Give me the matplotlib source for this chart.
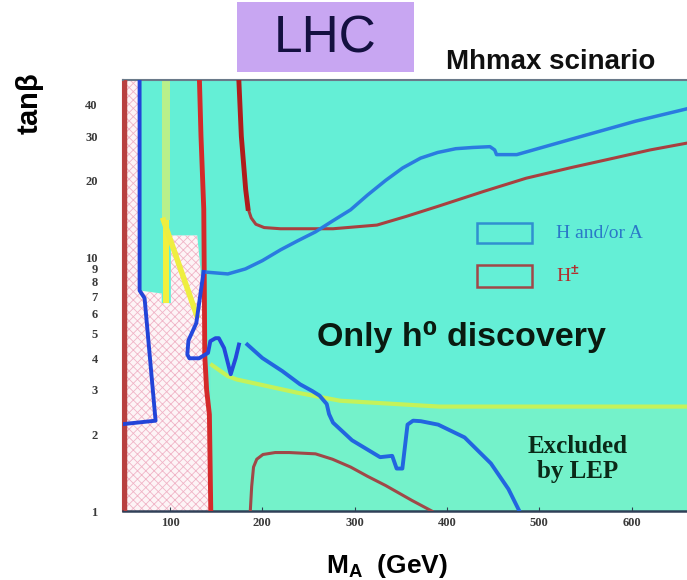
import matplotlib
matplotlib.use("Agg")
import matplotlib.pyplot as plt
from matplotlib.patches import Rectangle
from matplotlib.ticker import NullLocator

plt.rcParams['mathtext.fontset'] = 'custom'
plt.rcParams['mathtext.rm'] = 'Liberation Sans:bold'
plt.rcParams['mathtext.bf'] = 'Liberation Sans:bold'
plt.rcParams['mathtext.it'] = 'Liberation Sans:bold'
plt.rcParams['hatch.linewidth'] = 0.6

# ---------------- data (M_A in GeV, tan beta) ----------------
x_ticks = [100, 200, 300, 400, 500, 600]
x_tick_labels = ['100', '200', '300', '400', '500', '600']
y_ticks = [1, 2, 3, 4, 5, 6, 7, 8, 9, 10, 20, 30, 40]
y_tick_labels = ['1', '2', '3', '4', '5', '6', '7', '8', '9', '10', '20', '30', '40']

# LEP excluded hatched region
hatch_x = [48.8, 48.8, 67, 67, 91, 91, 101, 101, 129.5, 133, 137.7, 142.7, 144.2]
hatch_y = [1, 50, 50, 7.4, 7.2, 6.6, 6.6, 12.2, 12.2, 9, 4.1, 2.4, 1]

# yellow strip / diagonal
ystrip_top_x = [91, 100, 100, 91]
ystrip_top_y = [14, 14, 50, 50]
ystrip_low_x = [92, 99, 99, 92]
ystrip_low_y = [6.6, 6.6, 14, 14]
ydiag_x = [93, 129]
ydiag_y = [14, 5.9]

# lower (excluded by LEP) light-green region
low_x = [143.7, 143.7, 162.7, 172.3, 237.3, 284.5, 391.8, 660, 660]
low_y = [1, 3.8, 3.4, 3.3, 2.93, 2.72, 2.58, 2.58, 1]

# red (H+-) left line
red_left_x = [51.2, 51.2]
red_left_y = [1, 50]
# red (H+-) right vertical
red_v_x = [131.9, 133.6, 136.6, 137.1, 137.7, 139.7, 142.7, 144.2]
red_v_y = [50, 30, 15.5, 8.8, 4.1, 3.0, 2.4, 1]
# red (H+-) upper-right curve
red_up_x = [174.6, 177.3, 182.0, 184.5, 188.0, 193.0, 202.0, 219.7, 276.6, 324.2,
            356.0, 390.6, 440.0, 485.7, 535.0, 580.6, 620.0, 660]
red_up_y = [50, 30, 18.5, 15.6, 14.3, 13.5, 13.1, 12.96, 12.96, 13.4,
            14.5, 15.9, 18.2, 20.5, 22.6, 24.6, 26.5, 28.2]
# red (H+-) lower curve
red_low_x = [187.0, 188.5, 190.5, 194.0, 200.7, 214.0, 229.1, 257.6, 276.0, 295.7,
             314.0, 333.6, 362.2, 383.5]
red_low_y = [1.0, 1.25, 1.49, 1.60, 1.67, 1.70, 1.70, 1.68, 1.60, 1.49,
             1.37, 1.26, 1.10, 1.0]

# blue (H and/or A) left curve
blue_left_x = [67.1, 67.1, 72.5, 84.4, 48.8]
blue_left_y = [50, 7.4, 6.9, 2.27, 2.2]
# blue upper curve
blue_up_x = [136.4, 162.7, 181.7, 200.0, 219.7, 238.0, 257.6, 276.0, 295.7, 314.0,
             333.6, 352.0, 371.4, 390.0, 409.5, 428.0, 446.6, 451.7, 453.7, 475.6,
             533.0, 604.2, 660]
blue_up_y = [8.76, 8.6, 9.0, 9.7, 10.7, 11.6, 12.6, 13.9, 15.4, 17.6,
             20.1, 22.5, 24.6, 25.9, 26.8, 27.1, 27.3, 26.5, 25.4, 25.4,
             29.1, 34.4, 38.5]
# blue W-shaped part
blue_w_x = [136.4, 132.6, 128.5, 120.0, 118.8, 121.0, 131.6, 141.2, 143.7, 149.3,
            152.9, 158.6, 165.8, 171.2, 174.7]
blue_w_y = [8.76, 7.0, 5.5, 4.7, 4.14, 4.0, 4.0, 4.2, 4.67, 4.8,
            4.8, 4.39, 3.46, 4.01, 4.53]
# blue lower curve
blue_low_x = [183.8, 200.0, 221.7, 240.8, 254.2, 262.0, 269.8, 272.3, 276.6, 297.2,
              327.6, 340.7, 345.5, 351.7, 357.3, 363.3, 371.6, 390.5, 419.1, 447.6,
              466.6, 478.4]
blue_low_y = [4.53, 4.01, 3.56, 3.16, 2.97, 2.85, 2.64, 2.41, 2.23, 1.90,
              1.63, 1.65, 1.47, 1.47, 2.19, 2.27, 2.26, 2.19, 1.95, 1.54,
              1.22, 1.0]

# ---------------- figure ----------------
W, H = 687, 580
fig = plt.figure(figsize=(W / 100, H / 100), dpi=100)
fig.patch.set_facecolor('white')
ax = fig.add_axes([122.7 / W, (H - 511) / H, (W - 122.7) / W, 431 / H])
ax.set_facecolor('#64efd6')
ax.set_yscale('log')
ax.set_xlim(48.8, 660)
ax.set_ylim(1, 50)

ax.fill(low_x, low_y, facecolor='#74f2ca', edgecolor='none', zorder=1)
ax.plot(low_x[1:-1], low_y[1:-1], color='#c4f25a', lw=3, zorder=1.2,
        solid_capstyle='butt')
ax.fill(hatch_x, hatch_y, facecolor='#fdf4f6', edgecolor='#f0b4c6', hatch='xxxx',
        linewidth=0, zorder=1.1)
ax.fill(ystrip_top_x, ystrip_top_y, facecolor='#b8f08a', edgecolor='none', zorder=1.3)
ax.fill(ystrip_low_x, ystrip_low_y, facecolor='#f2f03e', edgecolor='none', zorder=1.3)
ax.plot(ydiag_x, ydiag_y, color='#eeee40', lw=4, zorder=1.4)

ax.plot(red_left_x, red_left_y, color='#b84040', lw=2.5, zorder=3)
ax.plot(red_v_x, red_v_y, color='#d42a2a', lw=3.5, zorder=3)
ax.plot(red_up_x, red_up_y, color='#a84040', lw=2.2, zorder=3)
ax.plot(red_up_x[:4], red_up_y[:4], color='#b01c1c', lw=3.5, zorder=3)
ax.plot(red_low_x, red_low_y, color='#a04848', lw=2.2, zorder=3)

ax.plot(blue_left_x, blue_left_y, color='#2244d8', lw=2.8, zorder=3.2)
ax.plot(blue_up_x, blue_up_y, color='#2a7be0', lw=2.5, zorder=3.2)
ax.plot(blue_w_x, blue_w_y, color='#2448dc', lw=2.8, zorder=3.2)
ax.plot(blue_low_x, blue_low_y, color='#2266e0', lw=2.8, zorder=3.2)

# legend boxes
ax.add_patch(Rectangle((0.627, 0.621), 0.098, 0.047, transform=ax.transAxes,
                       facecolor='none', edgecolor='#3090d0', lw=1.8, zorder=4))
ax.add_patch(Rectangle((0.627, 0.519), 0.098, 0.052, transform=ax.transAxes,
                       facecolor='none', edgecolor='#a04848', lw=1.8, zorder=4))
ax.text(0.768, 0.645, 'H and/or A', transform=ax.transAxes, color='#2a78c8',
        family='Liberation Serif', fontsize=14, va='center', ha='left', zorder=4)
ax.text(0.768, 0.548, r'H$^{\pm}$', transform=ax.transAxes, color='#b03030',
        family='Liberation Serif', fontsize=14, va='center', ha='left', zorder=4)

ax.text(0.600, 0.404, 'Only h\u2070 discovery', transform=ax.transAxes,
        family=['Liberation Sans', 'DejaVu Sans'], fontweight='bold', fontsize=24.5,
        color='#0a1a10', ha='center', va='center', zorder=4)
ax.text(0.806, 0.149, 'Excluded', transform=ax.transAxes, family='Liberation Serif',
        fontweight='bold', fontsize=18, color='#0a2a18', ha='center', va='center', zorder=4)
ax.text(0.806, 0.091, 'by LEP', transform=ax.transAxes, family='Liberation Serif',
        fontweight='bold', fontsize=18, color='#0a2a18', ha='center', va='center', zorder=4)

# ticks
ax.set_xticks(x_ticks)
ax.set_xticklabels(x_tick_labels)
ax.set_yticks(y_ticks)
ax.set_yticklabels(y_tick_labels)
ax.yaxis.set_minor_locator(NullLocator())
ax.xaxis.set_minor_locator(NullLocator())
ax.tick_params(axis='y', length=0, pad=18)
ax.tick_params(axis='x', length=3, direction='in', pad=4, color='#304050')
for lab in ax.get_xticklabels() + ax.get_yticklabels():
    lab.set_family('Liberation Serif')
    lab.set_fontweight('bold')
    lab.set_fontsize(9)
    lab.set_color('#3a3a3a')

ax.spines['right'].set_visible(False)
ax.spines['top'].set_color('#6a7a8a')
ax.spines['top'].set_linewidth(1.5)
ax.spines['bottom'].set_color('#304058')
ax.spines['bottom'].set_linewidth(1.8)
ax.spines['left'].set_color('#b84040')
ax.spines['left'].set_linewidth(1.5)

# title box
fig.patches.append(Rectangle((236.6 / W, 1 - 72 / H), 177 / W, 70 / H,
                             transform=fig.transFigure, facecolor='#c8a6f2',
                             edgecolor='none', zorder=0))
fig.text(325 / W, 1 - 39 / H, 'LHC', family='Liberation Sans', fontsize=37,
         color='#141040', ha='center', va='center')
fig.text(551 / W, 1 - 62 / H, 'Mhmax scinario', family='Liberation Sans',
         fontweight='bold', fontsize=20, color='#101010', ha='center', va='center')
fig.text(30 / W, 1 - 104 / H, r'tan$\mathbf{\beta}$', family='Liberation Sans',
         fontweight='bold', fontsize=21, rotation=90, ha='center', va='center')
fig.text(387 / W, 1 - 566 / H, r'M$_{\mathrm{A}}$  (GeV)', family='Liberation Sans',
         fontweight='bold', fontsize=19, ha='center', va='center')

fig.savefig('out.png', dpi=100)
